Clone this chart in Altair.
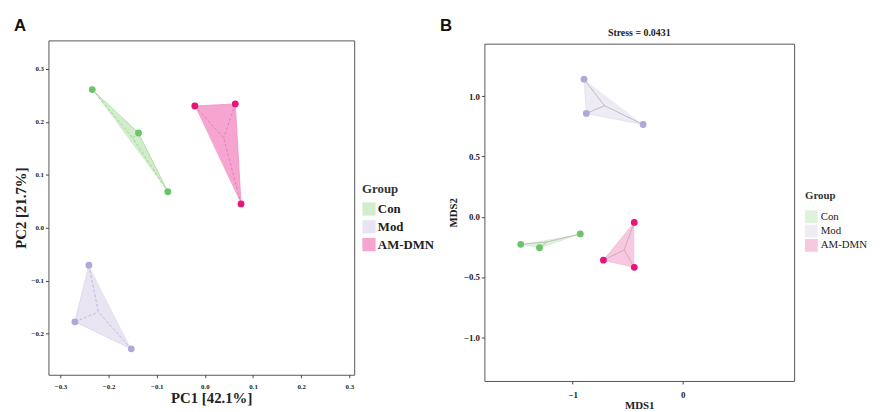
import altair as alt
import pandas as pd

groups = ["Con", "Mod", "AM-DMN"]

# Panel A (PCA)
a_con_x = [-0.234, -0.138, -0.077]
a_con_y = [0.261, 0.179, 0.068]
a_mod_x = [-0.241, -0.270, -0.153]
a_mod_y = [-0.071, -0.178, -0.229]
a_am_x = [-0.021, 0.063, 0.075]
a_am_y = [0.230, 0.234, 0.045]

# Panel B (NMDS)
b_con_x = [-1.47, -1.30, -0.93]
b_con_y = [-0.229, -0.257, -0.142]
b_mod_x = [-0.896, -0.875, -0.36]
b_mod_y = [1.142, 0.858, 0.766]
b_am_x = [-0.44, -0.72, -0.44]
b_am_y = [-0.047, -0.36, -0.42]

a_xticks = [-0.3, -0.2, -0.1, 0.0, 0.1, 0.2, 0.3]
a_yticks = [-0.2, -0.1, 0.0, 0.1, 0.2, 0.3]
b_xticks = [-1, 0]
b_yticks = [-1.0, -0.5, 0.0, 0.5, 1.0]

point_colors = ["#6cc36a", "#b4a7d6", "#e8147c"]
a_hull_fill = ["#d3edcc", "#e8e4f2", "#f5a5cf"]
a_hull_stroke = ["#a5d99e", "#d8d2ea", "#f08fc0"]
a_spider = ["#8fcc88", "#b8acd6", "#d979ad"]
b_hull_fill = ["#e0f2dc", "#eeebf5", "#f8c8e1"]
b_hull_stroke = ["#cfe9ca", "#e2def0", "#f2b5d5"]

SERIF = "Liberation Serif"


def frame(xs, ys):
    rows = []
    for g, gx, gy in zip(groups, xs, ys):
        for i, (x, y) in enumerate(zip(gx, gy)):
            rows.append({"Group": g, "x": x, "y": y, "idx": i})
    return pd.DataFrame(rows)


def panel(df, w, h, xdom, ydom, xticks, yticks, xfmt, yfmt, xtitle, ytitle,
          hull_fill, hull_stroke, spider_color, spider_dash, lab, letter,
          stress, xaxis_kw, yaxis_kw, legend_kw):
    x_enc = alt.X("x:Q", scale=alt.Scale(domain=xdom, nice=False, zero=False),
                  axis=alt.Axis(values=xticks, format=xfmt, title=xtitle, **xaxis_kw))
    y_enc = alt.Y("y:Q", scale=alt.Scale(domain=ydom, nice=False, zero=False),
                  axis=alt.Axis(values=yticks, format=yfmt, title=ytitle, **yaxis_kw))
    base = alt.Chart(df)
    hull = base.mark_line(strokeWidth=0.8).encode(
        x=x_enc, y=y_enc,
        fill=alt.Fill("Group:N", scale=alt.Scale(domain=groups, range=hull_fill),
                      legend=alt.Legend(title="Group", orient="none", symbolType="square",
                                        symbolStrokeWidth=0, symbolOpacity=1, **legend_kw)),
        stroke=alt.Stroke("Group:N", scale=alt.Scale(domain=groups, range=hull_stroke), legend=None),
        detail="Group:N",
        order="idx:Q",
    )
    spider = base.transform_joinaggregate(
        cx="mean(x)", cy="mean(y)", groupby=["Group"]
    ).mark_rule(strokeWidth=0.8, strokeDash=spider_dash).encode(
        x="x:Q", y="y:Q", x2="cx:Q", y2="cy:Q",
    )
    if isinstance(spider_color, list):
        spider = spider.encode(color=alt.Color("Group:N", scale=alt.Scale(domain=groups, range=spider_color), legend=None))
    else:
        spider = spider.encode(color=alt.value(spider_color))
    pts = base.mark_circle(size=48, opacity=1).encode(
        x="x:Q", y="y:Q",
        color=alt.Color("Group:N", scale=alt.Scale(domain=groups, range=point_colors), legend=None),
    )
    txt = alt.Chart(pd.DataFrame({"t": [letter]})).mark_text(
        font="Liberation Sans", fontSize=17, fontWeight="bold", align="left", baseline="middle", color="#111"
    ).encode(text="t:N", x=alt.value(lab[0]), y=alt.value(lab[1]))
    layers = [hull, spider, pts, txt]
    if stress:
        st = alt.Chart(pd.DataFrame({"t": [stress]})).mark_text(
            font=SERIF, fontSize=10, fontWeight="bold", align="center", baseline="middle", color="#222"
        ).encode(text="t:N", x=alt.value(w / 2), y=alt.value(-10.5))
        layers.append(st)
    return alt.layer(*layers).resolve_scale(
        fill="independent", stroke="independent", color="independent"
    ).properties(width=w, height=h)


dfa = frame([a_con_x, a_mod_x, a_am_x], [a_con_y, a_mod_y, a_am_y])
dfb = frame([b_con_x, b_mod_x, b_am_x], [b_con_y, b_mod_y, b_am_y])

chart_a = panel(
    dfa, 310, 339, [-0.325, 0.31], [-0.278, 0.354], a_xticks, a_yticks, ".1f", ".1f",
    "PC1 [42.1%]", "PC2 [21.7%]", a_hull_fill, a_hull_stroke, a_spider, [3, 2],
    (-35, -15), "A", None,
    dict(labelFontSize=7, titleFontSize=15, titlePadding=1.5, titleX=165, labelPadding=5),
    dict(labelFontSize=7, titleFontSize=15, titlePadding=3),
    dict(legendX=318, legendY=145, titleFontSize=13, labelFontSize=13, labelFontWeight="bold",
         symbolSize=180, rowPadding=4, titlePadding=6, labelOffset=2),
)

chart_b = panel(
    dfb, 314, 342, [-1.8, 1.01], [-1.363, 1.437], b_xticks, b_yticks, "d", ".1f",
    "MDS1", "MDS2", b_hull_fill, b_hull_stroke, "#aaaaaa", [1, 0],
    (-45, -18.3), "B", "Stress = 0.0431",
    dict(labelFontSize=9, titleFontSize=11, titlePadding=0, labelPadding=7),
    dict(labelFontSize=9, titleFontSize=11, titlePadding=5),
    dict(legendX=325, legendY=148, titleFontSize=11, labelFontSize=11, labelFontWeight="normal",
         symbolSize=169, rowPadding=1.5, titlePadding=10, labelOffset=3),
)

spacer = alt.Chart(pd.DataFrame({"a": [0]})).mark_point(opacity=0).encode(
    x=alt.value(0), y=alt.value(0)
).properties(width=314, height=1, view=alt.ViewBackground(strokeWidth=0, stroke="transparent"))

right = alt.vconcat(spacer, chart_b, spacing=2.3, bounds="flush").resolve_scale(
    fill="independent", stroke="independent", color="independent"
)

chart = alt.hconcat(chart_a, right, spacing=132, bounds="flush").resolve_scale(
    fill="independent", stroke="independent", color="independent"
).resolve_legend(fill="independent").properties(
    padding={"left": 4, "top": 5, "right": 5, "bottom": 5}
).configure_axis(
    labelFont=SERIF, labelFontWeight="bold", labelColor="#222", titleFont=SERIF,
    titleFontWeight="bold", titleColor="#222", tickColor="#444", tickSize=3,
    labelPadding=2, domain=False, grid=False,
).configure_legend(
    titleFont=SERIF, labelFont=SERIF, titleColor="#333", labelColor="#222", padding=0,
).configure_view(stroke="#555", strokeWidth=1)

chart.save("out.html", embed_options={"renderer": "svg", "actions": False})
